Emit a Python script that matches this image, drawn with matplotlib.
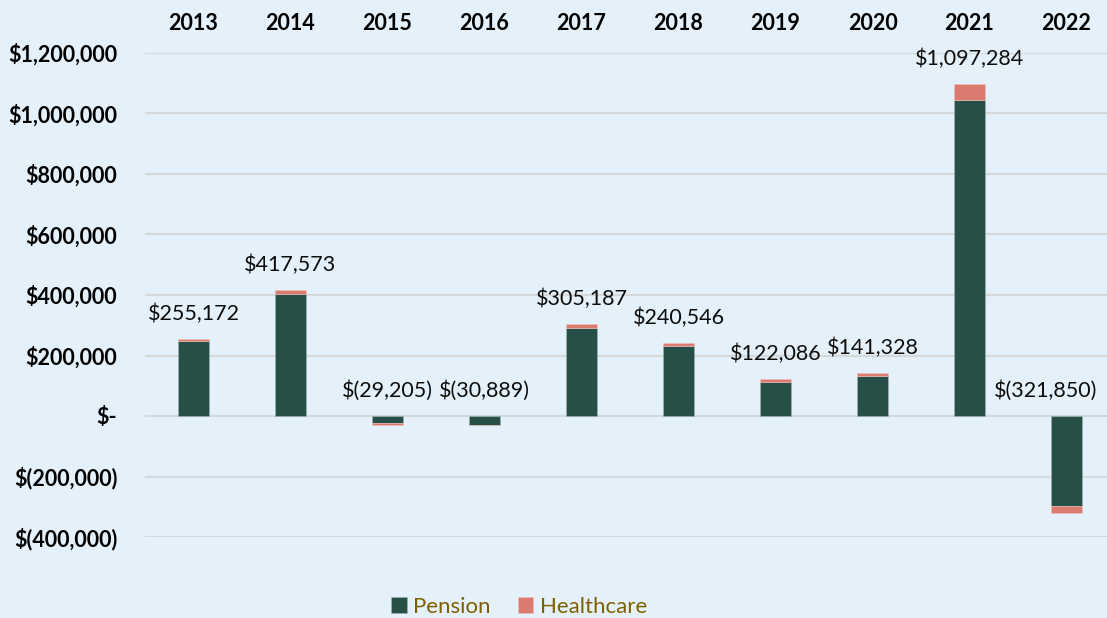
import matplotlib.pyplot as plt
import numpy as np
from matplotlib.ticker import FuncFormatter

years = ['2013', '2014', '2015', '2016', '2017', '2018', '2019', '2020', '2021', '2022']
pension = [247000, 404500, -24500, -29889, 291000, 233000, 112000, 133800, 1043000, -296000]
healthcare = [8172, 13073, -4705, -1000, 14187, 7546, 10086, 7528, 54284, -25850]
totals = [255172, 417573, -29205, -30889, 305187, 240546, 122086, 141328, 1097284, -321850]

bg = '#E4F1FA'
plt.rcParams['font.family'] = ['Lato', 'DejaVu Sans']

def money(v, pos=None):
    if v == 0:
        return '$-'
    if v < 0:
        return '$({:,.0f})'.format(-v)
    return '${:,.0f}'.format(v)

fig = plt.figure(figsize=(11.07, 6.18), dpi=100, facecolor=bg)
ax = fig.add_axes([145/1107, 1-537/618, 970/1107, 484/618])
ax.set_facecolor(bg)

x = np.arange(len(years))
ax.bar(x, pension, width=0.31, color='#264F47', label='Pension', zorder=3,
       edgecolor='#9fb8b2', linewidth=0.4)
ax.bar(x, healthcare, width=0.31, bottom=pension, color='#DB7A6E', label='Healthcare', zorder=3,
       edgecolor='#f0c0b8', linewidth=0.4)

for i, (xi, t) in enumerate(zip(x, totals)):
    dx = -15 if i == len(years) - 1 else 0
    ax.annotate(money(t), (xi, max(t, 0)), xytext=(dx, 18), textcoords='offset points',
                ha='center', va='center', fontsize=15.5, color='#0D0D0D', annotation_clip=False)

ax.set_xlim(-0.5, len(years)-0.5)
ax.set_ylim(-400000, 1200000)
ax.set_yticks(np.arange(-400000, 1200001, 200000))
ax.yaxis.set_major_formatter(FuncFormatter(money))
ax.grid(axis='y', color='#D5D9DC', linewidth=1.6, zorder=0)
ax.set_axisbelow(True)

ax.xaxis.tick_top()
ax.set_xticks(x)
ax.set_xticklabels(years, fontsize=15.5, fontweight='bold')
ax.tick_params(axis='x', length=0, pad=14)
ax.tick_params(axis='y', length=0, pad=20, labelsize=15.5)
for lab in ax.get_yticklabels():
    lab.set_fontweight('bold')

for s in ax.spines.values():
    s.set_visible(False)

fig.legend(loc='lower center', bbox_to_anchor=(0.469, -0.03), ncol=2, frameon=False,
           fontsize=16, labelcolor='#7F6000', handlelength=0.7, handleheight=0.7,
           handletextpad=0.3, columnspacing=1.2)

fig.savefig('out.png', dpi=100, facecolor=bg)
